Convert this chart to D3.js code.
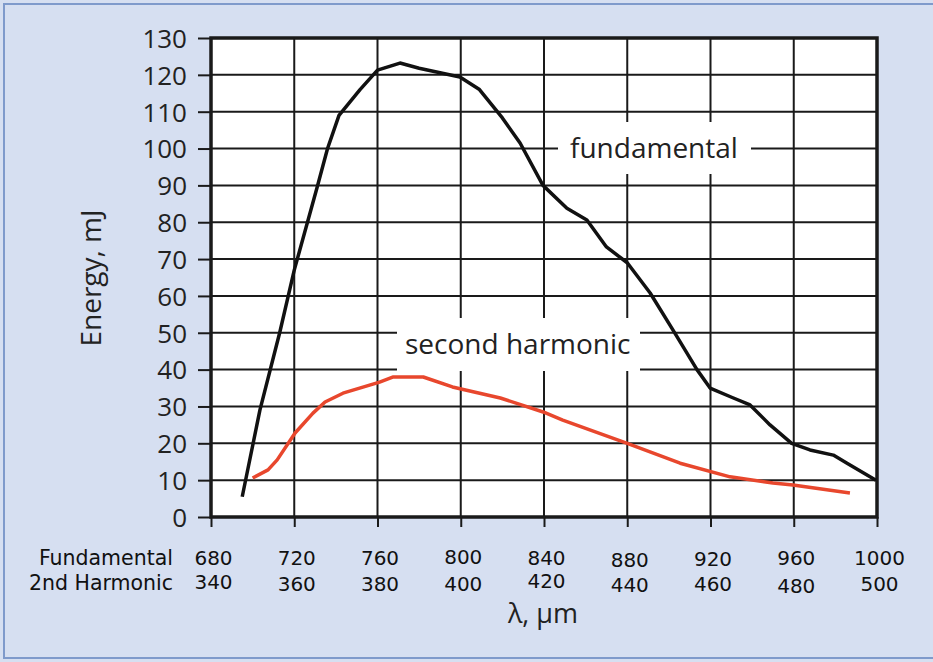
<!DOCTYPE html>
<html><head><meta charset="utf-8">
<script src="https://cdn.jsdelivr.net/npm/d3@7"></script>
<style>
html,body{margin:0;padding:0;background:#d6dff1;}
svg{display:block;}
</style></head>
<body>
<svg id="chart" width="933" height="662"></svg>
<script>
// ---- data ----
const fundamentalTicks = [680, 720, 760, 800, 840, 880, 920, 960, 1000];
const harmonicTicks = [340, 360, 380, 400, 420, 440, 460, 480, 500];
const energyTicks = [0,10,20,30,40,50,60,70,80,90,100,110,120,130];

// fundamental: wavelength (fundamental scale), energy mJ
const fundLambda = [695, 703.5, 713, 720, 731, 736, 741.5, 751.6, 760, 770.8, 780, 799.6, 809, 820, 828.5, 839.5, 851, 860.6, 870, 880, 891, 902, 913.5, 919.8, 931, 939, 948.6, 959, 967.8, 979, 985.6, 999.5];
const fundEnergy = [5.5, 29, 50, 67, 89.5, 100, 109, 116, 121.3, 123.2, 121.8, 119.4, 116, 108.3, 101.5, 90, 83.8, 80.6, 73.3, 69, 60.8, 50.7, 40, 35, 32.3, 30.4, 25, 20, 18.2, 16.8, 14.6, 10];

// second harmonic: wavelength (harmonic scale), energy mJ
const harmLambda = [350, 353.7, 355.9, 360.2, 364.5, 367.4, 371.7, 380.5, 383.8, 391, 398, 409.5, 419.8, 424.5, 440, 452.7, 464.7, 475, 479.8, 493.5];
const harmEnergy = [10.6, 12.8, 15.5, 22.8, 28.2, 31.2, 33.6, 36.6, 38, 38, 35.3, 32.3, 28.5, 26.3, 20, 14.6, 10.9, 9.2, 8.7, 6.5];

// ---- layout ----
const W = 933, H = 662;
const plot = {left: 211, right: 877, top: 38, bottom: 517};
// small vertical nudges of tick labels seen in the original artwork (px)
const fundNudge = [0, 0, 0, -1, 0, 2, 1, 0, 0];
const harmNudge = [-1, 1, 1, 1, -2, 2, 1, 3, 1];
const svg = d3.select("#chart");

const xF = d3.scaleLinear().domain([680, 1000]).range([plot.left, plot.right]);
const xH = d3.scaleLinear().domain([340, 500]).range([plot.left, plot.right]);
const y = d3.scaleLinear().domain([0, 130]).range([plot.bottom, plot.top]);

const sansNum = "'DejaVu Sans', Verdana, sans-serif";
const sansText = "'Open Sans', 'Noto Sans', sans-serif";

// background frame
svg.append("rect").attr("x", 0).attr("y", 0).attr("width", W).attr("height", H).attr("fill", "#d6dff1");
svg.append("path")
  .attr("d", `M${W+5},4 H4 V658 H${W+5}`)
  .attr("fill", "none").attr("stroke", "#7f9acb").attr("stroke-width", 2);

// plot area
svg.append("rect").attr("x", plot.left).attr("y", plot.top)
  .attr("width", plot.right - plot.left).attr("height", plot.bottom - plot.top)
  .attr("fill", "#ffffff");

// grid
const grid = svg.append("g").attr("stroke", "#1a1a1a").attr("stroke-width", 2);
grid.selectAll("line.h").data(energyTicks).join("line")
  .attr("x1", plot.left).attr("x2", plot.right)
  .attr("y1", d => y(d)).attr("y2", d => y(d));
grid.selectAll("line.v").data(fundamentalTicks).join("line")
  .attr("y1", plot.top).attr("y2", plot.bottom)
  .attr("x1", d => xF(d)).attr("x2", d => xF(d));

// label boxes (white gaps in grid)
svg.append("rect").attr("x", 558).attr("y", 122).attr("width", 193).attr("height", 52).attr("fill", "#fff");
svg.append("rect").attr("x", 397).attr("y", 318).attr("width", 243).attr("height", 53).attr("fill", "#fff");

// frame of plot
svg.append("rect").attr("x", plot.left).attr("y", plot.top)
  .attr("width", plot.right - plot.left).attr("height", plot.bottom - plot.top)
  .attr("fill", "none").attr("stroke", "#1a1a1a").attr("stroke-width", 3.5);

// y axis
const yAxis = d3.axisLeft(y).tickValues(energyTicks).tickSize(13).tickPadding(11);
const gy = svg.append("g").attr("transform", `translate(${plot.left},0)`).call(yAxis);
gy.select(".domain").remove();
gy.selectAll(".tick line").attr("stroke", "#1a1a1a").attr("stroke-width", 2);
gy.selectAll(".tick text").attr("fill", "#222").attr("font-family", sansText)
  .attr("font-size", 26).attr("dy", "0.36em");

// x axis (fundamental)
const xAxisF = d3.axisBottom(xF).tickValues(fundamentalTicks).tickSize(10).tickPadding(24).tickFormat(d3.format("d"));
const gx = svg.append("g").attr("transform", `translate(0,${plot.bottom})`).call(xAxisF);
gx.select(".domain").remove();
gx.selectAll(".tick line").attr("stroke", "#1a1a1a").attr("stroke-width", 2);
gx.selectAll(".tick text").attr("fill", "#111").attr("font-family", sansNum).attr("font-size", 20)
  .attr("transform", (d, i) => `translate(2,${fundNudge[i]})`);

// x axis (harmonic)
const xAxisH = d3.axisBottom(xH).tickValues(harmonicTicks).tickSize(0).tickPadding(59).tickFormat(d3.format("d"));
const gh = svg.append("g").attr("transform", `translate(0,${plot.bottom})`).call(xAxisH);
gh.select(".domain").remove();
gh.selectAll(".tick line").remove();
gh.selectAll(".tick text").attr("fill", "#111").attr("font-family", sansNum).attr("font-size", 20)
  .attr("transform", (d, i) => `translate(2,${harmNudge[i]})`);

// row labels
svg.append("text").attr("x", 173).attr("y", 565).attr("text-anchor", "end")
  .attr("font-family", sansNum).attr("font-size", 20.5).attr("fill", "#111").text("Fundamental");
svg.append("text").attr("x", 173).attr("y", 590).attr("text-anchor", "end")
  .attr("font-family", sansNum).attr("font-size", 20.5).attr("fill", "#111").text("2nd Harmonic");

// axis titles
svg.append("text").attr("x", 543).attr("y", 623).attr("text-anchor", "middle")
  .attr("font-family", sansText).attr("font-size", 27).attr("fill", "#222").text("λ, µm");
svg.append("text").attr("transform", "translate(101,278) rotate(-90)").attr("text-anchor", "middle")
  .attr("font-family", sansText).attr("font-size", 28).attr("fill", "#222").text("Energy, mJ");

// lines
const fundData = fundLambda.map((l, i) => [l, fundEnergy[i]]);
const harmData = harmLambda.map((l, i) => [l, harmEnergy[i]]);
const lineF = d3.line().x(d => xF(d[0])).y(d => y(d[1])).curve(d3.curveLinear);
const lineH = d3.line().x(d => xH(d[0])).y(d => y(d[1])).curve(d3.curveLinear);

svg.append("path").datum(harmData).attr("d", lineH).attr("fill", "none")
  .attr("stroke", "#e8472d").attr("stroke-width", 3.5).attr("stroke-linejoin", "round");
svg.append("path").datum(fundData).attr("d", lineF).attr("fill", "none")
  .attr("stroke", "#111").attr("stroke-width", 3.5).attr("stroke-linejoin", "round");

// series labels
svg.append("text").attr("x", 570).attr("y", 158).attr("font-family", sansText)
  .attr("font-size", 28).attr("fill", "#222").text("fundamental");
svg.append("text").attr("x", 405).attr("y", 354).attr("font-family", sansText)
  .attr("font-size", 28).attr("fill", "#222").text("second harmonic");
</script>
</body></html>
